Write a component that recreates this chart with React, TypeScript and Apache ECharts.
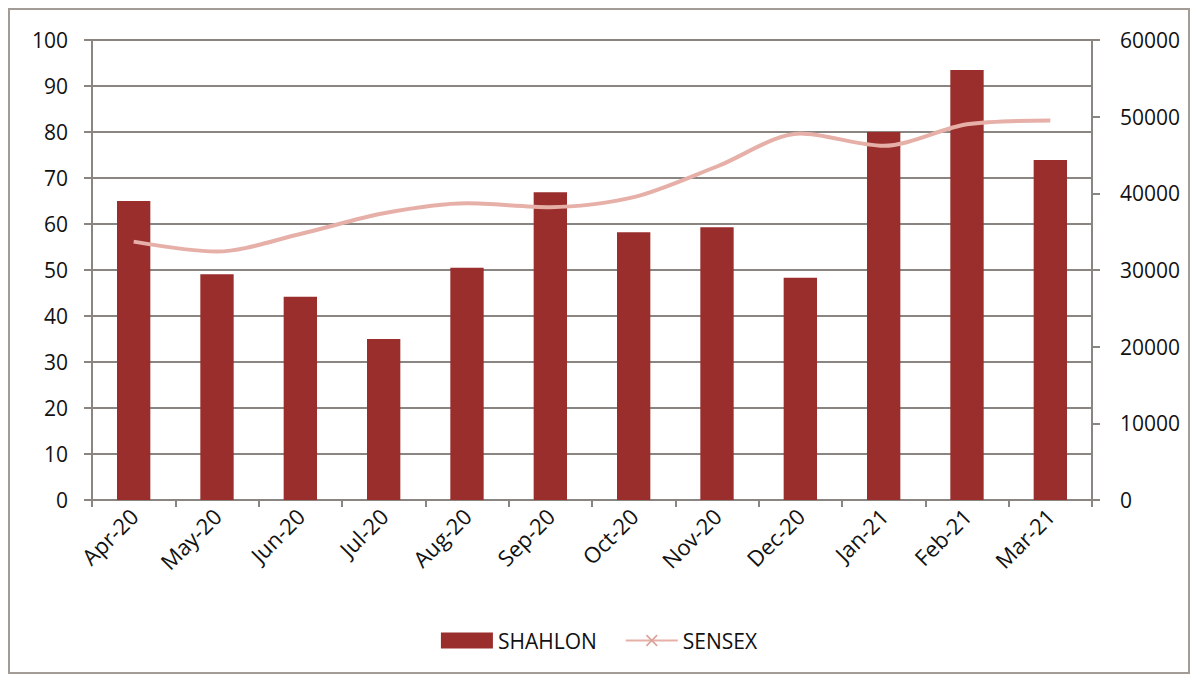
import React, { useEffect, useRef } from "react";
import * as echarts from "echarts";

const categories = ["Apr-20", "May-20", "Jun-20", "Jul-20", "Aug-20", "Sep-20", "Oct-20", "Nov-20", "Dec-20", "Jan-21", "Feb-21", "Mar-21"];
const shahlon = [65, 49.1, 44.2, 35, 50.5, 66.9, 58.2, 59.3, 48.3, 80, 93.5, 73.9];
const sensex = [33700, 32400, 34700, 37400, 38700, 38200, 39500, 43500, 47800, 46200, 49000, 49500];

const FONT = "'Open Sans', sans-serif";
const GRID = "#8a8580";
const LINE = "#e6b0a8";
const XMARK =
  "image://data:image/svg+xml;utf8," +
  encodeURIComponent(
    '<svg xmlns="http://www.w3.org/2000/svg" width="12" height="12"><path d="M1 1L11 11M11 1L1 11" stroke="#dca39b" stroke-width="1.6"/></svg>'
  );

export default function App() {
  const ref = useRef<HTMLDivElement>(null);
  useEffect(() => {
    if (!ref.current) return;
    const chart = echarts.init(ref.current, undefined, { renderer: "svg" });
    chart.setOption({
      animation: false,
      backgroundColor: "#ffffff",
      textStyle: { fontFamily: FONT },
      grid: { left: 82, right: 96, top: 30, bottom: 172 },
      legend: {
        bottom: 16,
        left: "center",
        itemGap: 28,
        itemWidth: 52,
        itemHeight: 16,
        textStyle: { fontFamily: FONT, fontSize: 21, color: "#111" },
        data: [
          { name: "SHAHLON", icon: "rect" },
          { name: "SENSEX" },
        ],
      },
      xAxis: {
        type: "category",
        data: categories,
        boundaryGap: true,
        axisLine: { lineStyle: { color: GRID, width: 2 } },
        axisTick: { show: true, length: 7, lineStyle: { color: GRID, width: 2 } },
        axisLabel: { rotate: 45, margin: 12, fontSize: 22, color: "#111", fontFamily: FONT },
      },
      yAxis: [
        {
          type: "value",
          min: 0,
          max: 100,
          interval: 10,
          axisLine: { show: true, lineStyle: { color: GRID, width: 2 } },
          axisTick: { show: true, length: 8, lineStyle: { color: GRID, width: 2 } },
          splitLine: { show: true, lineStyle: { color: GRID, width: 2 } },
          axisLabel: { margin: 24, fontSize: 21, color: "#111", fontFamily: FONT },
        },
        {
          type: "value",
          min: 0,
          max: 60000,
          interval: 10000,
          position: "right",
          axisLine: { show: true, lineStyle: { color: GRID, width: 2 } },
          axisTick: { show: true, length: 8, lineStyle: { color: GRID, width: 2 } },
          splitLine: { show: false },
          axisLabel: { margin: 28, fontSize: 21, color: "#111", fontFamily: FONT, formatter: (v: number) => String(v) },
        },
      ],
      series: [
        {
          name: "SHAHLON",
          type: "bar",
          data: shahlon,
          yAxisIndex: 0,
          barWidth: "40%",
          itemStyle: { color: "#9a2e2c" },
        },
        {
          name: "SENSEX",
          type: "line",
          data: sensex,
          yAxisIndex: 1,
          smooth: 0.3,
          symbol: XMARK,
          showSymbol: false,
          symbolSize: 12,
          lineStyle: { color: LINE, width: 4 },
          itemStyle: { color: LINE },
        },
      ],
    });
    return () => chart.dispose();
  }, []);
  return (
    <div
      style={{
        width: 1182,
        height: 666,
        border: "2px solid #a39b96",
        boxSizing: "border-box",
        background: "#fff",
      }}
    >
      <div ref={ref} style={{ width: 1178, height: 662 }} />
    </div>
  );
}
